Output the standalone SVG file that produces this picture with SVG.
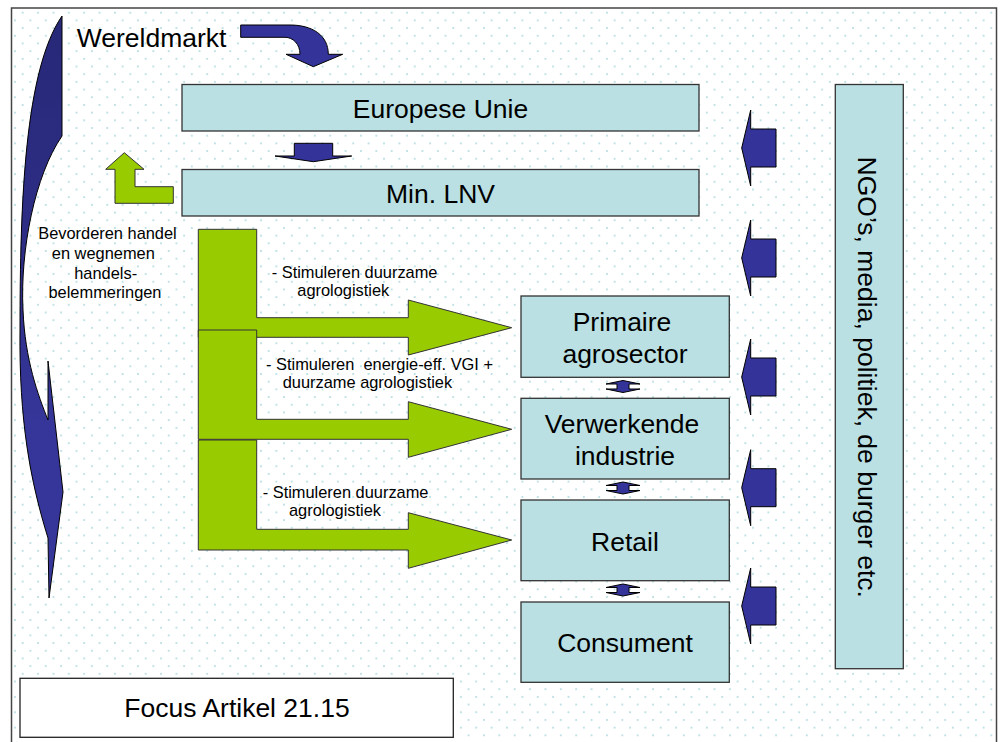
<svg xmlns="http://www.w3.org/2000/svg" width="1003" height="742" viewBox="0 0 1003 742">
<style>
.box{fill:#bae0e3;stroke:#333;stroke-width:1.3}
.blue{fill:#333399;stroke:#000;stroke-width:1}
.green{fill:#99cc00;stroke:#333;stroke-width:1}
.big{font-family:"Liberation Sans",Arial,sans-serif;font-size:26.5px;fill:#000}
.small{font-family:"Liberation Sans",Arial,sans-serif;font-size:16.4px;fill:#000;white-space:pre}
.mid{text-anchor:middle}
</style>
<defs>
<pattern id="dots" patternUnits="userSpaceOnUse" x="15" y="5" width="15.375" height="15.375">
<circle cx="7.69" cy="7.69" r="0.9" fill="#a6d6da"/>
<circle cx="0" cy="0" r="0.9" fill="#a6d6da"/>
<circle cx="15.375" cy="0" r="0.9" fill="#a6d6da"/>
<circle cx="0" cy="15.375" r="0.9" fill="#a6d6da"/>
<circle cx="15.375" cy="15.375" r="0.9" fill="#a6d6da"/>
</pattern>
<linearGradient id="crescent" x1="0" y1="0" x2="0" y2="1">
<stop offset="0" stop-color="#282878"/>
<stop offset="0.45" stop-color="#2e2e88"/>
<stop offset="0.7" stop-color="#36369a"/>
<stop offset="1" stop-color="#36369a"/>
</linearGradient>
<path id="leftArrow" d="M0,0 L9,-38 L9,-19 L34.3,-19 L34.3,19 L9,19 L9,38 Z"/>
<path id="dbl" d="M0,-6 L17,-2.5 L6,-2.5 L6,2.5 L17,2.5 L0,6 L-17,2.5 L-6,2.5 L-6,-2.5 L-17,-2.5 Z"/>
</defs>
<rect x="0" y="0" width="1003" height="742" fill="#fff"/>
<rect x="11.5" y="8" width="985" height="745" fill="url(#dots)" stroke="#444" stroke-width="1.5"/>

<g id="connectors">
<path id="crescent-arrow" d="M62,16 L62,136 C35,175 20,250 23,310 C25,360 38,395 48,420 L48,361 L63,492 L49,598 L48,538 C30,480 19,420 20,330 C20,200 25,70 62,16 Z" fill="url(#crescent)" stroke="#000" stroke-width="1"/>
<path id="wereld-arrow" class="blue" d="M240.7,25 L290,25 C312,25 328.3,35 328.3,54.3 L342.7,54.3 L313.3,66.7 L286,54.3 L300,54.3 C300,44 293,37.3 285,37.3 L240.7,37.3 Z"/>
<path id="eu-lnv-arrow" class="blue" d="M294.3,143.3 L332.7,143.3 L332.7,156 L351.7,156 L313.3,161.7 L275,156 L294.3,156 Z"/>
<path id="lnv-up-arrow" class="green" d="M124.3,152.7 L144,169.3 L135,169.3 L135,186.7 L173.3,186.7 L173.3,203.3 L115,203.3 L115,169.3 L105.7,169.3 Z"/>
<path id="green1" class="green" d="M198.3,229.3 L256.7,229.3 L256.7,317.7 L408.3,317.7 L408.3,300 L511.7,327.7 L408.3,355 L408.3,337.3 L198.3,337.3 Z"/>
<path id="green2" class="green" d="M198.3,330 L256.7,330 L256.7,419.3 L408.3,419.3 L408.3,401.7 L511.7,429.3 L408.3,457.3 L408.3,439.3 L198.3,439.3 Z"/>
<path id="green3" class="green" d="M198.3,440 L256.7,440 L256.7,529.3 L408.3,529.3 L408.3,512.7 L511.7,540 L408.3,568.3 L408.3,550 L198.3,550 Z"/>
<use href="#leftArrow" class="blue" x="741.7" y="148"/>
<use href="#leftArrow" class="blue" x="741.7" y="258"/>
<use href="#leftArrow" class="blue" x="741.7" y="377"/>
<use href="#leftArrow" class="blue" x="741.7" y="487.7"/>
<use href="#leftArrow" class="blue" x="741.7" y="606"/>
<use href="#dbl" class="blue" x="623" y="386.5"/>
<use href="#dbl" class="blue" x="623" y="488"/>
<use href="#dbl" class="blue" x="623" y="590"/>
</g>

<g id="wereldmarkt"><text class="big" x="76.7" y="46.7">Wereldmarkt</text></g>
<g id="eu"><rect class="box" x="182" y="84.5" width="517" height="46.5"/><text class="big mid" x="440.5" y="117.5">Europese Unie</text></g>
<g id="lnv"><rect class="box" x="182" y="169.5" width="517" height="46.5"/><text class="big mid" x="440.5" y="202.5">Min. LNV</text></g>
<g id="handel-label">
<text class="small mid" x="107.5" y="239.3">Bevorderen handel</text>
<text class="small mid" x="103.3" y="259">en wegnemen</text>
<text class="small mid" x="105.7" y="278.7">handels-</text>
<text class="small mid" x="105" y="298.4">belemmeringen</text>
</g>
<g id="label1"><text class="small" x="271.7" y="278.3">- Stimuleren duurzame</text><text class="small" x="297.3" y="296">agrologistiek</text></g>
<g id="label2"><text class="small" x="266" y="370">- Stimuleren  energie-eff. VGI +</text><text class="small" x="282.7" y="387.7">duurzame agrologistiek</text></g>
<g id="label3"><text class="small" x="262.7" y="497.7">- Stimuleren duurzame</text><text class="small" x="289" y="516">agrologistiek</text></g>
<g id="primaire"><rect class="box" x="521" y="296" width="208.3" height="81.3"/><text class="big mid" x="622" y="331">Primaire</text><text class="big mid" x="625" y="362.7">agrosector</text></g>
<g id="verwerkende"><rect class="box" x="521" y="398.3" width="208.3" height="80.7"/><text class="big mid" x="622" y="432.7">Verwerkende</text><text class="big mid" x="625" y="465">industrie</text></g>
<g id="retail"><rect class="box" x="521" y="500" width="208.3" height="80.7"/><text class="big mid" x="625" y="550.7">Retail</text></g>
<g id="consument"><rect class="box" x="521" y="602" width="208.3" height="80.3"/><text class="big mid" x="625" y="651.7">Consument</text></g>
<g id="ngo"><rect class="box" x="835.3" y="84.5" width="68" height="584.2"/><text class="big mid" transform="translate(857.5,377.2) rotate(90)" x="0" y="0">NGO’s, media, politiek, de burger etc.</text></g>
<g id="focus"><rect x="20" y="678.3" width="433.3" height="59" fill="#fff" stroke="#222" stroke-width="1.3"/><text class="big mid" x="237" y="717.3">Focus Artikel 21.15</text></g>
</svg>
